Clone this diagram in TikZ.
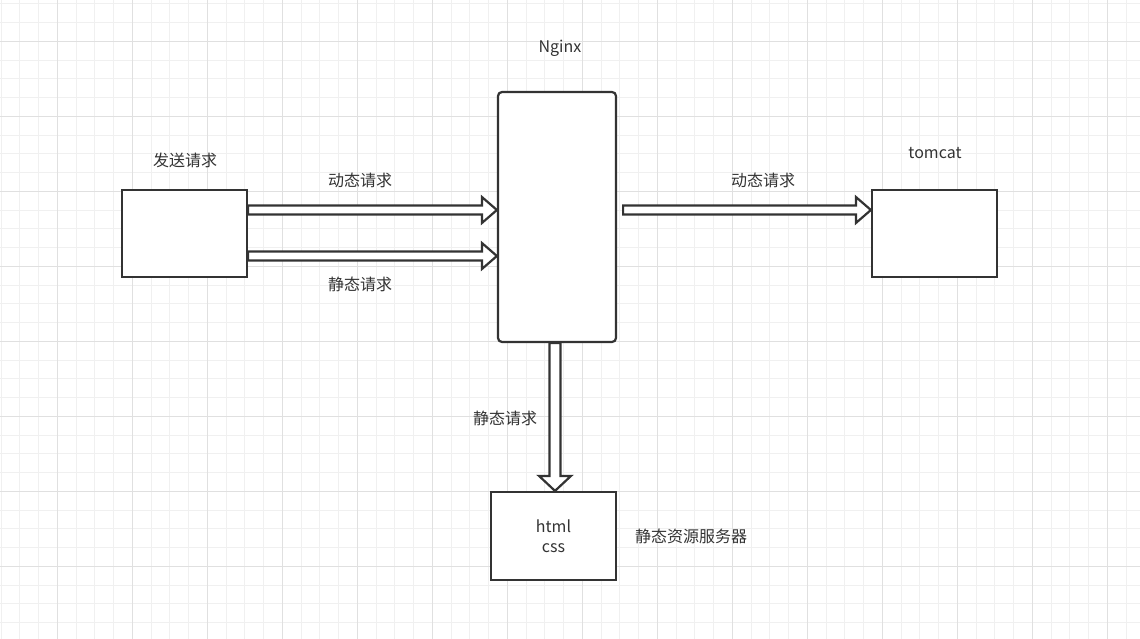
\documentclass[tikz,border=0pt]{standalone}
\usepackage{fontspec}
\newfontfamily\cjk{Noto Sans CJK SC}
\usetikzlibrary{calc,positioning}
\definecolor{linecol}{HTML}{333333}
\definecolor{gridminor}{HTML}{F0F0F0}
\definecolor{gridmajor}{HTML}{E0E0E0}

\tikzset{
  hollow body/.store in=\hollowbody, hollow body=4.5pt,
  hollow head/.store in=\hollowhead, hollow head=13pt,
}

\begin{document}
\begin{tikzpicture}[x=1pt,y=-1pt,
    box/.style={draw=linecol, line width=2.2pt, fill=white, inner sep=0pt},
    lbl/.style={font=\cjk\fontsize{16}{20}\selectfont, text=linecol, align=center},
    hollow/.style={draw=linecol, line width=2.2pt, fill=white, line join=miter,
      to path={let \p1=(\tikztostart), \p2=(\tikztotarget),
          \n1={atan2(\y2-\y1,\x2-\x1)} in
        ($(\p1)+({\n1+90}:\hollowbody)$)
        -- ($(\p2)+({\n1+180}:15pt)+({\n1+90}:\hollowbody)$)
        -- ($(\p2)+({\n1+180}:15pt)+({\n1+90}:\hollowhead)$)
        -- (\p2)
        -- ($(\p2)+({\n1+180}:15pt)+({\n1-90}:\hollowhead)$)
        -- ($(\p2)+({\n1+180}:15pt)+({\n1-90}:\hollowbody)$)
        -- ($(\p1)+({\n1-90}:\hollowbody)$) -- cycle}}]

    % Background grid
    \useasboundingbox[fill=white] (0,0) rectangle (1140,639);
    \foreach \gx in {0,...,60}
      \draw[gridminor, line width=1pt] ({1+18.75*\gx},0) -- ({1+18.75*\gx},639);
    \foreach \gy in {0,...,33}
      \draw[gridminor, line width=1pt] (0,{3.8+18.75*\gy}) -- (1140,{3.8+18.75*\gy});
    \foreach \gx in {0,...,14}
      \draw[gridmajor, line width=1pt] ({57.3+75*\gx},0) -- ({57.3+75*\gx},639);
    \foreach \gy in {0,...,7}
      \draw[gridmajor, line width=1pt] (0,{41.3+75*\gy}) -- (1140,{41.3+75*\gy});

    % Boxes
    \node[box, minimum width=125pt, minimum height=87pt] (send) at (184.5,233.5) {};
    \node[box, minimum width=118pt, minimum height=250pt, rounded corners=4pt] (nginx) at (557,217) {};
    \node[box, minimum width=125pt, minimum height=88pt, lbl] (static) at (553.5,536) {html\\css};
    \node[box, minimum width=125pt, minimum height=87pt] (tomcat) at (934.5,233.5) {};

    % Box titles
    \node[lbl] (sendlbl) at (185,160) {发送请求};
    \node[lbl] (nginxlbl) at (560,48) {Nginx};
    \node[lbl] (tomcatlbl) at (935,153) {tomcat};
    \node[lbl] (staticlbl) at (691,536) {静态资源服务器};

    % Arrow ends
    \coordinate (dyn1s) at ([yshift=23.5pt]send.east);
    \coordinate (dyn1e) at ([yshift=7pt]nginx.west);
    \coordinate (sta1s) at ([yshift=-22.5pt]send.east);
    \coordinate (sta1e) at ([yshift=-39pt]nginx.west);
    \coordinate (dyn2s) at ([xshift=6pt,yshift=7pt]nginx.east);
    \coordinate (dyn2e) at ([yshift=23.5pt]tomcat.west);
    \coordinate (sta2s) at ([xshift=-2pt]nginx.south);
    \coordinate (sta2e) at (sta2s |- static.north);

    % Requests
    \draw[hollow] (dyn1s) to (dyn1e);
    \draw[hollow] (sta1s) to (sta1e);
    \draw[hollow] (dyn2s) to (dyn2e);
    \draw[hollow, hollow body=5.5pt, hollow head=16pt] (sta2s) to (sta2e);

    % Arrow labels
    \node[lbl] (dyn1lbl) at (360,180) {动态请求};
    \node[lbl] (sta1lbl) at (360,284) {静态请求};
    \node[lbl] (dyn2lbl) at (763,180) {动态请求};
    \node[lbl] (sta2lbl) at (505,418) {静态请求};
\end{tikzpicture}
\end{document}
